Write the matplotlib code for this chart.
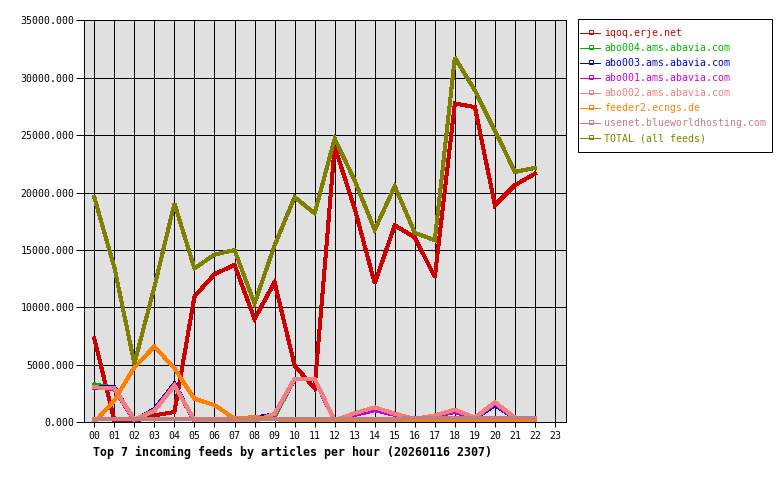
import matplotlib
matplotlib.use("Agg")
import matplotlib.pyplot as plt
from matplotlib.ticker import FixedLocator, FuncFormatter
from matplotlib.lines import Line2D
from matplotlib.patches import Rectangle

hours = list(range(23))
hour_labels = [f"{h:02d}" for h in range(24)]

iqoq = [7300, 150, 100, 600, 900, 10950, 12900, 13700, 9000, 12200, 4950, 2950,
        24000, 18600, 12100, 17150, 16100, 12650, 27750, 27450, 18900, 20650, 21650]
abo004 = [3300, 3000, 200, 1000, 3300, 150, 100, 100, 200, 500, 3800, 3800,
          100, 800, 1200, 750, 300, 600, 1000, 400, 1600, 400, 300]
abo003 = [3100, 3050, 150, 1150, 3350, 100, 100, 400, 400, 700, 3750, 3750,
          100, 750, 1150, 700, 300, 550, 950, 350, 1500, 350, 250]
abo001 = [3000, 2900, 150, 1050, 3250, 100, 100, 100, 100, 700, 3750, 3750,
          100, 650, 1050, 650, 300, 550, 900, 350, 1650, 350, 250]
abo002 = [3050, 2950, 250, 1000, 3200, 200, 100, 100, 100, 750, 3800, 3800,
          150, 800, 1300, 750, 300, 600, 1100, 400, 1750, 400, 300]
feeder2 = [0, 1900, 4800, 6600, 4700, 2050, 1500, 320, 460, 300, 0, 0,
           0, 0, 0, 0, 130, 130, 130, 130, 130, 130, 130]
usenet = [270, 270, 270, 270, 270, 270, 270, 270, 270, 270, 270, 270,
          270, 270, 270, 300, 380, 380, 380, 380, 380, 380, 380]
total = [19600, 13500, 5100, 11800, 19050, 13400, 14600, 15000, 10350, 15400, 19600, 18200,
         24700, 21050, 16750, 20550, 16500, 15850, 31750, 28900, 25400, 21800, 22150]

series = [
    ("iqoq.erje.net", iqoq, "#cc0000"),
    ("abo004.ams.abavia.com", abo004, "#00b000"),
    ("abo003.ams.abavia.com", abo003, "#0000cc"),
    ("abo001.ams.abavia.com", abo001, "#cc00cc"),
    ("abo002.ams.abavia.com", abo002, "#f08080"),
    ("feeder2.ecngs.de", feeder2, "#ff8000"),
    ("usenet.blueworldhosting.com", usenet, "#c08080"),
    ("TOTAL (all feeds)", total, "#808000"),
]
title = "Top 7 incoming feeds by articles per hour (20260116 2307)"

W, H = 780, 480
fig = plt.figure(figsize=(W / 100, H / 100), dpi=100)
fig.patch.set_facecolor("white")

left, right, top, bottom = 84.3, 566.0, 20.3, 422.3
ax = fig.add_axes([left / W, 1 - bottom / H, (right - left) / W, (bottom - top) / H])
ax.set_facecolor("#e0e0e0")

px = 0.72
for name, vals, col in series:
    ax.plot(hours, vals, color=col, lw=3 * px, label=name, antialiased=False,
            solid_joinstyle="miter")

ax.set_xlim(-0.5, 23.55)
ax.set_ylim(0, 35000)
ax.xaxis.set_major_locator(FixedLocator(range(24)))
ax.set_xticklabels(hour_labels)
ax.yaxis.set_major_locator(FixedLocator(range(0, 35001, 5000)))
ax.yaxis.set_major_formatter(FuncFormatter(lambda v, p: f"{v:.3f}"))
ax.grid(True, color="black", lw=1 * px)
ax.set_axisbelow(True)
for s in ax.spines.values():
    s.set_color("black")
    s.set_linewidth(1 * px)

mono = "DejaVu Sans Mono"
ax.tick_params(axis="y", direction="out", length=8 * px, width=1 * px, pad=2 * px,
               labelsize=7.1, colors="black")
ax.tick_params(axis="x", direction="out", length=4.5 * px, width=1 * px, pad=4 * px,
               labelsize=7.1, colors="black")
for lab in ax.get_xticklabels() + ax.get_yticklabels():
    lab.set_family(mono)

fig.text(92.7 / W, 1 - 452.5 / H, title, family=mono, weight="bold", fontsize=8.4,
         ha="left", va="center")

# legend box drawn in figure pixel coordinates
def fx(x):
    return x / W

def fy(y):
    return 1 - y / H

fig.patches.append(Rectangle((fx(577.5), fy(151.5)), (771.5 - 577.5) / W, (151.5 - 18.5) / H,
                             transform=fig.transFigure, facecolor="white",
                             edgecolor="black", lw=1 * px, zorder=5))
for i, (name, vals, col) in enumerate(series):
    y = 33.3 + 15 * i
    fig.lines.append(Line2D([fx(580), fx(600)], [fy(y), fy(y)], transform=fig.transFigure,
                            color=col, lw=1 * px, antialiased=False, zorder=6))
    fig.lines.append(Line2D([fx(590.5)], [fy(y - 1)], transform=fig.transFigure,
                            color=col, marker="s", markersize=2.2, markerfacecolor="none",
                            markeredgewidth=0.7, lw=0, zorder=6))
    fig.text(fx(604), fy(y), name, family=mono, fontsize=7.1, color=col,
             ha="left", va="center", zorder=7)

fig.savefig("out.png", dpi=100)
